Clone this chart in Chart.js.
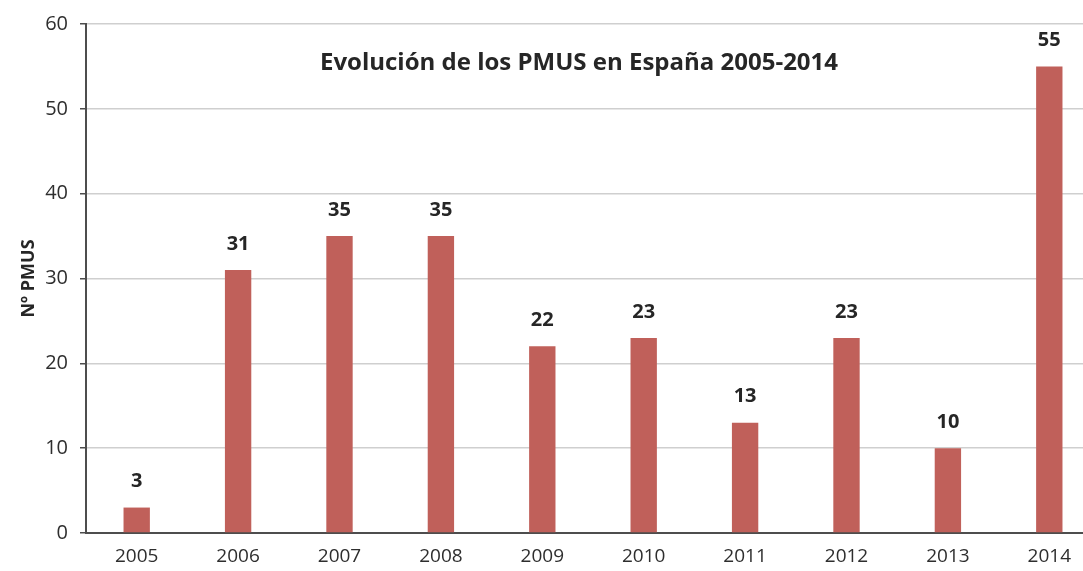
<!DOCTYPE html>
<html>
<head>
<meta charset="utf-8">
<script src="https://cdn.jsdelivr.net/npm/chart.js@4"></script>
<style>
  body { margin: 0; overflow: hidden; background: #fff; }
  #wrap { width: 1100px; height: 571px; }
</style>
</head>
<body>
<div id="wrap"><canvas id="barChart"></canvas></div>
<script>
const years = ['2005', '2006', '2007', '2008', '2009', '2010', '2011', '2012', '2013', '2014'];
const pmus = [3, 31, 35, 35, 22, 23, 13, 23, 10, 55];
const yTicks = [0, 10, 20, 30, 40, 50, 60];

const titleText = 'Evolución de los PMUS en España 2005-2014';
const fontName = '"Open Sans", "Liberation Sans", sans-serif';

// title drawn inside the plot area + value labels on top of bars
const overlay = {
    id: 'overlay',
    afterDatasetsDraw(chart) {
        const ctx = chart.ctx;
        ctx.save();
        ctx.fillStyle = '#262626';
        ctx.textAlign = 'center';
        ctx.textBaseline = 'middle';
        ctx.font = 'bold 24px ' + fontName;
        ctx.fillText(titleText, 579, 63);

        ctx.font = 'bold 20px ' + fontName;
        chart.getDatasetMeta(0).data.forEach((bar, i) => {
            ctx.fillText(pmus[i], bar.x, bar.y - 26);
        });
        ctx.restore();
    }
};

new Chart(document.getElementById('barChart'), {
    type: 'bar',
    data: {
        labels: years,
        datasets: [{
            label: 'Nº PMUS',
            data: pmus,
            backgroundColor: '#c0605a',
            categoryPercentage: 1,
            barPercentage: 0.26
        }]
    },
    options: {
        responsive: true,
        maintainAspectRatio: false,
        animation: false,
        layout: { padding: { top: 22, right: 0, bottom: 0, left: 0 } },
        plugins: {
            legend: { display: false },
            tooltip: { enabled: false }
        },
        scales: {
            x: {
                grid: { drawOnChartArea: false, drawTicks: false },
                border: { color: '#4d4d4d', width: 2 },
                ticks: { color: '#2e2e2e', padding: 12, font: { family: fontName, size: 19 } },
                afterFit(scale) { scale.height = 38; }
            },
            y: {
                min: 0,
                max: 60,
                afterBuildTicks(scale) { scale.ticks = yTicks.map(v => ({ value: v })); },
                grid: { color: '#cfcfcf', lineWidth: 1.5, tickColor: '#4d4d4d', tickLength: 6 },
                border: { color: '#4d4d4d', width: 2 },
                ticks: { color: '#2e2e2e', padding: 12, font: { family: fontName, size: 20 } },
                title: {
                    display: true,
                    text: 'Nº PMUS',
                    color: '#262626',
                    font: { family: fontName, size: 18, weight: 'bold' },
                    padding: { top: 18, bottom: 0 }
                },
                afterFit(scale) { scale.width = 86; }
            }
        }
    },
    plugins: [overlay]
});
</script>
</body>
</html>
